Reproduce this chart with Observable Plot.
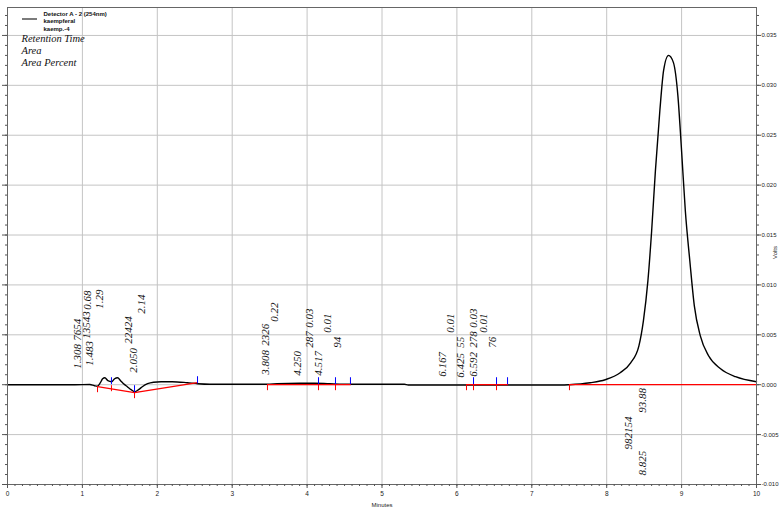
<!DOCTYPE html>
<html>
<head>
<meta charset="utf-8">
<script src="https://cdn.jsdelivr.net/npm/d3@7"></script>
<script src="https://cdn.jsdelivr.net/npm/@observablehq/plot@0.6"></script>
<style>
  body { margin: 0; background: #fff; }
  #chart { position: relative; width: 782px; height: 514px; }
</style>
</head>
<body>
<div id="chart"></div>
<script>
// Detector A - 2 (254nm) trace: time (minutes) and signal (volts)
const traceMinutes = [
  0, 0.90, 1.10, 1.16, 1.20, 1.24, 1.27, 1.30, 1.34, 1.39,
  1.43, 1.47, 1.51, 1.55, 1.60, 1.65, 1.70, 1.75, 1.80, 1.87,
  1.95, 2.05, 2.20, 2.40, 2.54, 2.70, 3.20, 3.47, 3.60, 3.90,
  4.10, 4.30, 4.60, 5.30, 5.35, 7.40, 7.50, 7.78, 7.98, 8.18,
  8.32, 8.43, 8.49, 8.55, 8.60, 8.65, 8.71, 8.76, 8.825, 8.89,
  8.95, 9.00, 9.05, 9.11, 9.17, 9.25, 9.36, 9.52, 9.72, 10.0
];
const traceVolts = [
  0, 0, 0.00002, -0.0001, -0.00015, 0.0002, 0.0006, 0.0007, 0.0004, 0.0003,
  0.0006, 0.0007, 0.0004, 0.0001, -0.0002, -0.0005, -0.0007, -0.0005, -0.0002, 0.0001,
  0.00025, 0.0003, 0.0003, 0.0002, 0.0001, 0.00005, 0.00005, 0.00005, 0.0001, 0.00015,
  0.00015, 0.0001, 0.00005, 0.00005, -0.00003, -0.00003, 0, 0.0002, 0.0005, 0.0012,
  0.0022, 0.0039, 0.0064, 0.0104, 0.0154, 0.0214, 0.0275, 0.0315, 0.0330, 0.0323,
  0.0290, 0.0234, 0.0174, 0.0124, 0.0079, 0.0049, 0.0029, 0.0016, 0.0008, 0.0003
];

// Integrated peaks: retention time, area, area percent
const peakRT   = [1.308, 1.483, 2.050, 3.808, 4.250, 4.517, 6.167, 6.425, 6.592, 8.825];
const peakArea = [7654, 13543, 22424, 2326, 287, 94, 76, 55, 278, 982154];
const peakPct  = [0.68, 1.29, 2.14, 0.22, 0.03, 0.01, 0.01, 0.01, 0.03, 93.88];

// Where each peak's annotations sit (minutes, volts)
const rtLabelAt   = [[0.935,0.0016],[1.095,0.0019],[1.682,0.0012],[3.445,0.0010],[3.872,0.0009],[4.152,0.0009],[5.808,0.0008],[6.048,0.0007],[6.222,0.0008],[8.478,-0.0091]];
const areaLabelAt = [[0.935,0.0044],[1.055,0.0046],[1.615,0.0041],[3.445,0.0039],[4.032,0.0037],[4.406,0.0037],[6.475,0.0037],[6.048,0.0037],[6.222,0.0037],[8.291,-0.0065]];
const pctLabelAt  = [[1.068,0.0075],[1.228,0.0076],[1.789,0.0071],[3.565,0.0063],[4.032,0.0057],[4.272,0.0052],[5.915,0.0052],[6.355,0.0052],[6.222,0.0057],[8.478,-0.0028]];

// Integration baselines: segment id, time, level
const baseSeg     = [0, 0, 0, 1, 1, 2, 2, 3, 3];
const baseMinutes = [1.202, 1.696, 2.537, 3.471, 4.579, 6.128, 6.676, 7.503, 10.0];
const baseVolts   = [-0.0002, -0.0008, 0.0002, 0, 0, 0, 0, 0, 0];

// Peak start/stop event marks
const startMinutes = [1.202, 1.388, 1.696, 3.471, 4.152, 4.379, 6.128, 6.222, 6.529, 7.503];
const startVolts   = [-0.0002, -0.0001, -0.0008, 0, 0, 0, 0, 0, 0, 0];
const stopMinutes  = [1.388, 1.696, 2.537, 4.152, 4.379, 4.579, 6.222, 6.529, 6.676];
const stopVolts    = [0, -0.0008, 0.0001, 0, 0, 0, 0, 0, 0];

// Axis ticks
const xTicks = [0, 1, 2, 3, 4, 5, 6, 7, 8, 9, 10];
const yTicks = [-0.010, -0.005, 0.000, 0.005, 0.010, 0.015, 0.020, 0.025, 0.030, 0.035];

const trace = traceMinutes.map((t, i) => ({t, v: traceVolts[i]}));
const baseline = baseMinutes.map((t, i) => ({t, v: baseVolts[i], seg: baseSeg[i]}));
const starts = startMinutes.map((t, i) => ({t, v: startVolts[i]}));
const stops = stopMinutes.map((t, i) => ({t, v: stopVolts[i]}));

const labels = [];
peakRT.forEach((rt, i) => {
  labels.push({t: rtLabelAt[i][0], v: rtLabelAt[i][1], text: rt.toFixed(3)});
  labels.push({t: areaLabelAt[i][0], v: areaLabelAt[i][1], text: String(peakArea[i])});
  labels.push({t: pctLabelAt[i][0], v: pctLabelAt[i][1], text: peakPct[i].toFixed(2)});
});

const xMinor = d3.range(0, 101).map(i => i / 10);
const yMinor = d3.range(-10, 38).map(i => i / 1000);
const blank = () => "";
const gridColor = "#c4c4c4";
const serif = "'Liberation Serif', 'Times New Roman', serif";

const chart = Plot.plot({
  width: 782,
  height: 514,
  marginLeft: 7,
  marginRight: 26,
  marginTop: 7,
  marginBottom: 30,
  style: {fontFamily: "'Liberation Sans', Arial, sans-serif", fontSize: "6px", color: "#222", background: "#fff"},
  x: {domain: [0, 10], axis: null},
  y: {domain: [-0.010, 0.0378], axis: null},
  marks: [
    Plot.gridX(xTicks.slice(1, -1), {stroke: gridColor, strokeOpacity: 1}),
    Plot.gridY(yTicks.slice(1), {stroke: gridColor, strokeOpacity: 1}),
    Plot.line(trace, {x: "t", y: "v", stroke: "#000", strokeWidth: 1.4, curve: "monotone-x"}),
    Plot.line(baseline, {x: "t", y: "v", z: "seg", stroke: "#ff0000", strokeWidth: 1.2}),
    Plot.ruleX(starts, {x: "t", y1: "v", y2: d => d.v - 0.0006, stroke: "#ff0000", strokeWidth: 1}),
    Plot.ruleX(stops, {x: "t", y1: "v", y2: d => d.v + 0.0007, stroke: "#0000ff", strokeWidth: 1}),
    Plot.text(labels, {
      x: "t", y: "v", text: "text", rotate: -90,
      textAnchor: "start", lineAnchor: "middle",
      fontFamily: serif, fontStyle: "italic", fontSize: 11, fill: "#111"
    }),
    Plot.frame({stroke: "#666"}),
    Plot.axisY(yTicks, {anchor: "right", tickSize: 4, tickPadding: 1, tickFormat: d => d.toFixed(3), fontSize: 6, stroke: "#555", label: null}),
    Plot.axisY(yMinor, {anchor: "right", tickSize: 2, tickFormat: blank, stroke: "#555", label: null}),
    Plot.axisY(yTicks, {anchor: "left", tickSize: 5, tickFormat: blank, stroke: "#555", label: null}),
    Plot.axisY(yMinor, {anchor: "left", tickSize: 2, tickFormat: blank, stroke: "#555", label: null}),
    Plot.axisX(xTicks, {anchor: "bottom", tickSize: 4, tickPadding: 3, tickFormat: d => String(d), fontSize: 6.5, stroke: "#555", label: null}),
    Plot.axisX(xMinor, {anchor: "bottom", tickSize: 2, tickFormat: blank, stroke: "#555", label: null}),
    Plot.text(["Volts"], {text: d => d, frameAnchor: "right", dx: 19, rotate: -90, fontSize: 6}),
    Plot.text(["Minutes"], {text: d => d, frameAnchor: "bottom", dy: 22, fontSize: 6}),
    Plot.text(["Detector A - 2 (254nm)\nkaempferal\nkaemp.-4"], {
      text: d => d, frameAnchor: "top-left", dx: 36, dy: 3,
      textAnchor: "start", lineAnchor: "top", lineHeight: 1.25,
      fontSize: 6, fontWeight: "bold", fill: "#111"
    }),
    Plot.text(["Retention Time\nArea\nArea Percent"], {
      text: d => d, frameAnchor: "top-left", dx: 14, dy: 26,
      textAnchor: "start", lineAnchor: "top", lineHeight: 1.15,
      fontFamily: serif, fontStyle: "italic", fontSize: 10.5, fill: "#111"
    })
  ]
});

// Legend swatch for the detector trace
d3.select(chart).append("line")
  .attr("x1", 22).attr("x2", 37).attr("y1", 19).attr("y2", 19)
  .attr("stroke", "#333").attr("stroke-width", 1.3);

document.getElementById("chart").append(chart);
</script>
</body>
</html>
